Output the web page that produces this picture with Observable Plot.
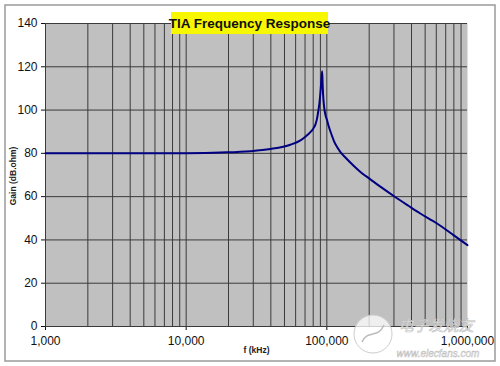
<!DOCTYPE html>
<html><head><meta charset="utf-8">
<script src="https://cdn.jsdelivr.net/npm/d3@7"></script>
<script src="https://cdn.jsdelivr.net/npm/@observablehq/plot@0.6"></script>
<style>
body{margin:0;background:#fff;}
#wrap{width:500px;height:366px;}
</style></head><body><div id="wrap"></div>
<script>
// Data
const freqHz = [1000, 5000, 10000, 17500, 28600, 39700, 55100, 64900, 70000, 76400, 80000, 82900, 85000, 87100, 88500, 90000, 91000, 92600, 93300, 94000, 95500, 98000, 100500, 103000, 109000, 112000, 118000, 125000, 135000, 155000, 175000, 204000, 250000, 299000, 380000, 462000, 608000, 800000, 1000000];
const gainDb = [80, 80, 80.1, 80.4, 81, 82, 84, 86, 87.6, 89.8, 91.4, 93.3, 95.8, 99.8, 103, 108, 112, 117.9, 112.5, 107.5, 101.8, 97.5, 95.2, 92.6, 88, 85.9, 83, 80.6, 78.2, 74.3, 71.2, 68, 63.8, 60.3, 55.8, 52.2, 47.6, 42.1, 37.6];
const yTicks = [0, 20, 40, 60, 80, 100, 120, 140];
const xTicks = [1000, 10000, 100000, 1000000];
const xTickLabels = ["1,000", "10,000", "100,000", "1,000,000"];
const titleText = "TIA Frequency Response";
const xLabel = "f (kHz)";
const yLabel = "Gain (dB.ohm)";
const wmCn = "电子发烧友";
const wmUrl = "www.elecfans.com";

const data = freqHz.map((f, i) => ({f, g: gainDb[i]}));
const gridX = [];
for (const d of [1000, 10000, 100000]) for (let k = 1; k <= 9; k++) gridX.push(d * k);

const deco = (index, scales, values, dim) => {
  const g = d3.create("svg:g");
  g.append("rect").attr("x", 5).attr("y", 5).attr("width", 490).attr("height", 356)
    .attr("fill", "none").attr("stroke", "#9a9a9a").attr("stroke-width", 1.5);
  // title
  g.append("rect").attr("x", 171).attr("y", 12).attr("width", 157).attr("height", 22).attr("fill", "#f7f700");
  g.append("text").attr("x", 249.5).attr("y", 28).attr("text-anchor", "middle")
    .attr("font-size", 13.5).attr("font-weight", "bold").attr("fill", "#111").text(titleText);
  // y label
  g.append("text").attr("transform", "translate(16,176) rotate(-90)").attr("text-anchor", "middle")
    .attr("font-size", 8.5).attr("font-weight", "bold").attr("fill", "#222").text(yLabel);
  // x label
  g.append("text").attr("x", 256.5).attr("y", 353).attr("text-anchor", "middle")
    .attr("font-size", 8.5).attr("font-weight", "bold").attr("fill", "#222").text(xLabel);
  // watermark
  g.append("circle").attr("cx", 373).attr("cy", 334).attr("r", 19).attr("fill", "#fff").attr("fill-opacity", 0.75)
    .attr("stroke", "#ccc").attr("stroke-width", 1);
  g.append("path").attr("d", "M362,342 C368,329 378,339 384,325").attr("fill", "none").attr("stroke", "#bbb").attr("stroke-width", 1.5);
  g.append("text").attr("x", 436).attr("y", 331).attr("text-anchor", "middle").attr("font-size", 15)
    .attr("font-family", "Noto Sans CJK SC").attr("font-style", "italic")
    .attr("fill", "#fff").attr("fill-opacity", 0.8).attr("stroke", "#bbb").attr("stroke-width", 0.6).text(wmCn);
  g.append("text").attr("x", 438).attr("y", 357).attr("text-anchor", "middle").attr("font-size", 10)
    .attr("font-style", "italic").attr("fill", "#fff").attr("fill-opacity", 0.85).attr("stroke", "#bbb").attr("stroke-width", 0.5).text(wmUrl);
  return g.node();
};

const chart = Plot.plot({
  width: 500, height: 366,
  marginLeft: 45, marginRight: 33, marginTop: 23, marginBottom: 40,
  style: {fontFamily: "'Liberation Sans', Arial, sans-serif", fontSize: "12px", background: "#fff", color: "#111"},
  x: {type: "log", domain: [1000, 1000000], ticks: xTicks, tickFormat: d => xTickLabels[xTicks.indexOf(d)], tickSize: 4, tickPadding: 6, label: null},
  y: {domain: [0, 140], ticks: yTicks, tickSize: 4, tickPadding: 4, label: null},
  marks: [
    Plot.frame({fill: "#c0c0c0", stroke: null}),
    Plot.ruleX(gridX, {stroke: "#3a3a3a", strokeWidth: 1}),
    Plot.ruleY(yTicks, {stroke: "#3a3a3a", strokeWidth: 1}),
    Plot.line(data, {x: "f", y: "g", stroke: "#000080", strokeWidth: 2, curve: "monotone-x"}),
    deco
  ]
});
document.getElementById("wrap").appendChild(chart);
</script></body></html>
